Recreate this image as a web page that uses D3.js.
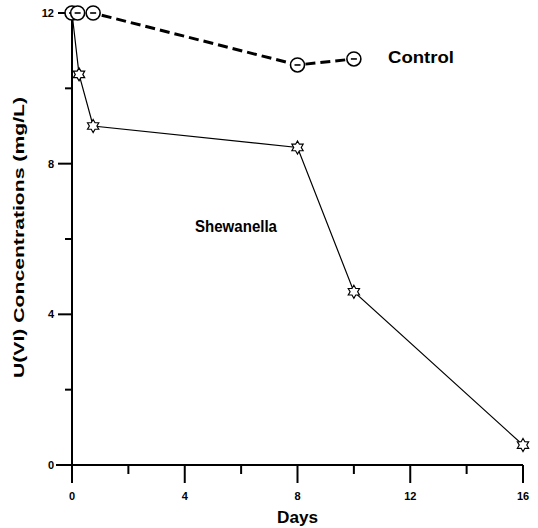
<!DOCTYPE html>
<html><head><meta charset="utf-8">
<script src="https://cdn.jsdelivr.net/npm/d3@7"></script>
<style>body{margin:0;background:#fff}svg{display:block}text{font-family:Arial,"Liberation Sans",sans-serif;font-weight:bold;fill:#000}</style>
</head><body>
<svg id="c" width="538" height="528"></svg>
<script>
const controlDays = [0, 0.2, 0.75, 8, 10];
const controlValues = [12, 12, 12, 10.62, 10.78];
const shewDays = [0, 0.25, 0.75, 8, 10, 16];
const shewValues = [12, 10.37, 9.0, 8.43, 4.6, 0.53];
const xTicks = [0, 4, 8, 12, 16];
const xMinor = [2, 6, 10, 14];
const yTicks = [0, 4, 8, 12];
const yMinor = [2, 6, 10];

const svg = d3.select("#c");
const x = d3.scaleLinear().domain([0, 16]).range([72, 523]);
const y = d3.scaleLinear().domain([0, 12]).range([465, 13]);

// axes
const ax = svg.append("g");
ax.append("line").attr("x1", 56).attr("x2", x(16)).attr("y1", y(0)).attr("y2", y(0)).attr("stroke", "#000").attr("stroke-width", 2);
ax.append("line").attr("x1", x(0)).attr("x2", x(0)).attr("y1", y(0) + 18).attr("y2", y(12)).attr("stroke", "#000").attr("stroke-width", 2);
xTicks.forEach(t => {
  ax.append("line").attr("x1", x(t)).attr("x2", x(t)).attr("y1", y(0)).attr("y2", y(0) + 18).attr("stroke", "#000").attr("stroke-width", 2);
  ax.append("text").attr("x", x(t)).attr("y", y(0) + 35).attr("text-anchor", "middle").attr("font-size", 11).text(t);
});
xMinor.forEach(t => {
  ax.append("line").attr("x1", x(t)).attr("x2", x(t)).attr("y1", y(0)).attr("y2", y(0) + 9).attr("stroke", "#000").attr("stroke-width", 2);
});
yTicks.forEach(t => {
  ax.append("line").attr("x1", x(0) - 14).attr("x2", x(0)).attr("y1", y(t)).attr("y2", y(t)).attr("stroke", "#000").attr("stroke-width", 2);
  ax.append("text").attr("x", x(0) - 18).attr("y", y(t) + 4).attr("text-anchor", "end").attr("font-size", 11).text(t);
});
yMinor.forEach(t => {
  ax.append("line").attr("x1", x(0) - 7).attr("x2", x(0)).attr("y1", y(t)).attr("y2", y(t)).attr("stroke", "#000").attr("stroke-width", 2);
});

// axis titles
svg.append("text").attr("x", 277).attr("y", 523).attr("font-size", 16)
  .attr("textLength", 41).attr("lengthAdjust", "spacingAndGlyphs").text("Days");
svg.append("text").attr("transform", "translate(24,378) rotate(-90)").attr("font-size", 15)
  .attr("textLength", 281).attr("lengthAdjust", "spacingAndGlyphs").text("U(VI) Concentrations (mg/L)");

// lines
const line = d3.line().x(d => x(d[0])).y(d => y(d[1]));
const shew = shewDays.map((d, i) => [d, shewValues[i]]);
const ctrl = controlDays.map((d, i) => [d, controlValues[i]]);
svg.append("path").attr("d", line(shew)).attr("fill", "none").attr("stroke", "#000").attr("stroke-width", 1.2);
svg.append("path").attr("d", line(ctrl)).attr("fill", "none").attr("stroke", "#000").attr("stroke-width", 3).attr("stroke-dasharray", "10,5");

// star markers (hexagram)
function hexagram(cx, cy, r) {
  const pts = [];
  for (let i = 0; i < 12; i++) {
    const a = -Math.PI / 2 + i * Math.PI / 6;
    const rr = i % 2 === 0 ? r : r * 0.58;
    pts.push([cx + rr * Math.cos(a), cy + rr * Math.sin(a)]);
  }
  return "M" + pts.map(p => p.join(",")).join("L") + "Z";
}
svg.selectAll(".star").data(shew).enter().append("path")
  .attr("d", d => hexagram(x(d[0]), y(d[1]), 6.5))
  .attr("fill", "#fff").attr("stroke", "#000").attr("stroke-width", 1.2);

// circle markers
const cg = svg.selectAll(".circ").data(ctrl).enter().append("g");
cg.append("circle").attr("cx", d => x(d[0])).attr("cy", d => y(d[1])).attr("r", 7)
  .attr("fill", "#fff").attr("stroke", "#000").attr("stroke-width", 1.6);
cg.append("line").attr("x1", d => x(d[0]) - 3).attr("x2", d => x(d[0]) + 3)
  .attr("y1", d => y(d[1])).attr("y2", d => y(d[1])).attr("stroke", "#000").attr("stroke-width", 1.6);

// series labels
svg.append("text").attr("x", 388).attr("y", 63).attr("font-size", 17)
  .attr("textLength", 66).attr("lengthAdjust", "spacingAndGlyphs").text("Control");
svg.append("text").attr("x", 195).attr("y", 232).attr("font-size", 16.5)
  .attr("textLength", 82).attr("lengthAdjust", "spacingAndGlyphs").text("Shewanella");
</script>
</body></html>
